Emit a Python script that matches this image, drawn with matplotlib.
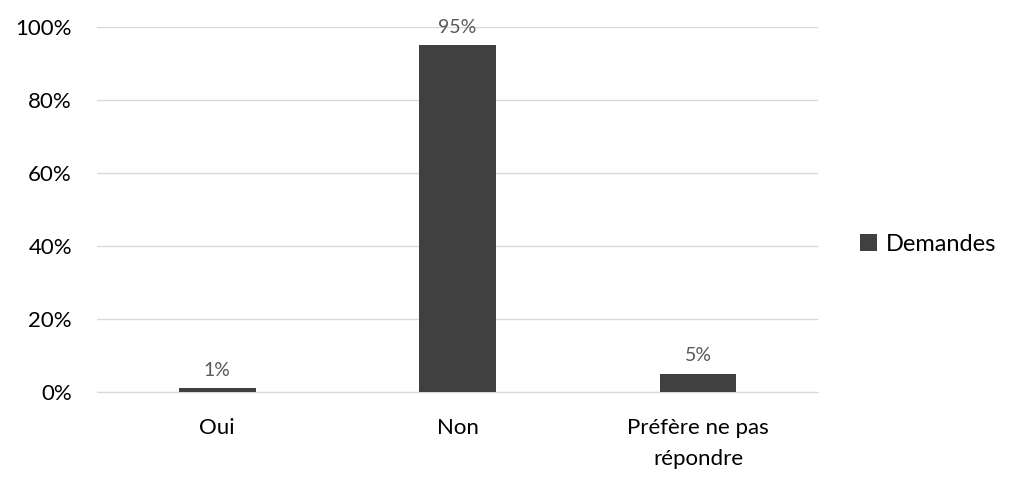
import matplotlib
matplotlib.use("Agg")
import matplotlib.pyplot as plt
from matplotlib.ticker import PercentFormatter

categories = ["Oui", "Non", "Préfère ne pas\nrépondre"]
values = [0.01, 0.95, 0.05]
labels = ["1%", "95%", "5%"]
series_name = "Demandes"

plt.rcParams["font.family"] = ["Lato", "DejaVu Sans"]

fig = plt.figure(figsize=(10.24, 4.87), dpi=100)
ax = fig.add_axes([0.0947, 0.195, 0.7043, 0.7496])

bar_color = "#404040"
x = range(len(categories))
bars = ax.bar(x, values, width=0.32, color=bar_color, label=series_name, zorder=3)

for b, txt in zip(bars, labels):
    ax.annotate(txt, (b.get_x() + b.get_width() / 2, b.get_height()),
                xytext=(0, 7), textcoords="offset points",
                ha="center", va="bottom", fontsize=14, color="#595959")

ax.set_xlim(-0.5, len(categories) - 0.5)
ax.set_ylim(0, 1)
ax.set_yticks([0, 0.2, 0.4, 0.6, 0.8, 1.0])
ax.yaxis.set_major_formatter(PercentFormatter(1.0, decimals=0))
ax.set_xticks(list(x))
ax.set_xticklabels(categories, linespacing=1.65)

ax.grid(axis="y", color="#d9d9d9", linewidth=1, zorder=0)
for side in ["top", "right", "left"]:
    ax.spines[side].set_visible(False)
ax.spines["bottom"].set_color("#d9d9d9")
ax.tick_params(axis="both", length=0, labelsize=16, colors="#000000")
ax.tick_params(axis="y", pad=18)
ax.tick_params(axis="x", pad=19)

ax.legend(loc="center left", bbox_to_anchor=(1.028, 0.405), frameon=False,
          fontsize=17, handlelength=0.75, handleheight=0.75, handletextpad=0.35)

fig.savefig("out.png", dpi=100)
